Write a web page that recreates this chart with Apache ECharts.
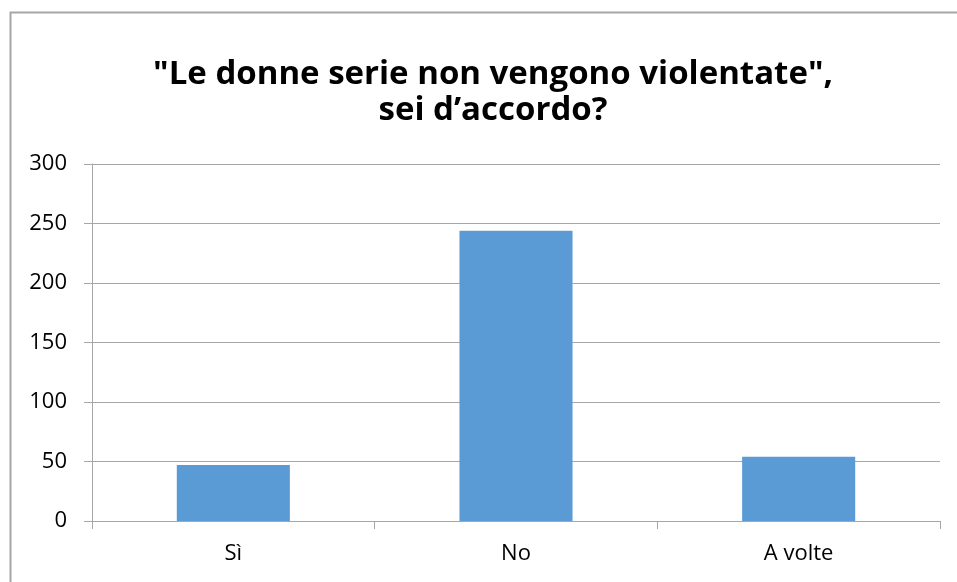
<!DOCTYPE html>
<html>
<head>
<meta charset="utf-8">
<script src="https://cdn.jsdelivr.net/npm/echarts@6/dist/echarts.min.js"></script>
<style>
  html, body { margin: 0; padding: 0; background: #fff; }
  #chart { width: 957px; height: 582px; }
</style>
</head>
<body>
<div id="chart"></div>
<script>
// Survey answers and counts
const categories = ['Sì', 'No', 'A volte'];
const counts = [47, 244, 54];
const yTicks = [0, 50, 100, 150, 200, 250, 300];

const titleLines = ['"Le donne serie non vengono violentate",', 'sei d’accordo?'];
const font = '"Open Sans", "Liberation Sans", sans-serif';

const chart = echarts.init(document.getElementById('chart'), null, { renderer: 'canvas' });

chart.setOption({
  animation: false,
  backgroundColor: '#ffffff',
  graphic: [
    {
      type: 'rect',
      shape: { x: 10.5, y: 12.5, width: 1000, height: 700 },
      style: { fill: 'none', stroke: '#a6a6a6', lineWidth: 2 },
      silent: true
    }
  ],
  title: {
    text: titleLines.join('\n'),
    left: 488,
    textAlign: 'center',
    top: 52,
    textStyle: {
      fontFamily: font,
      fontWeight: 'bold',
      fontSize: 33,
      lineHeight: 36,
      color: '#000000'
    }
  },
  grid: {
    left: 92,
    right: 17,
    top: 164,
    bottom: 61,
    containLabel: false
  },
  xAxis: {
    type: 'category',
    data: categories,
    axisLine: { lineStyle: { color: '#a6a6a6', width: 1 } },
    axisTick: { show: true, length: 8, alignWithLabel: false, lineStyle: { color: '#a6a6a6' } },
    axisLabel: { color: '#000000', fontFamily: font, fontSize: 22, margin: 22 }
  },
  yAxis: {
    type: 'value',
    min: yTicks[0],
    max: yTicks[yTicks.length - 1],
    interval: yTicks[1] - yTicks[0],
    axisLine: { show: true, lineStyle: { color: '#a6a6a6', width: 1 } },
    axisTick: { show: true, length: 8, lineStyle: { color: '#a6a6a6' } },
    axisLabel: { color: '#000000', fontFamily: font, fontSize: 22, margin: 25 },
    splitLine: { show: true, lineStyle: { color: '#a6a6a6', width: 1 } }
  },
  series: [
    {
      type: 'bar',
      data: counts,
      barCategoryGap: '60%',
      itemStyle: { color: '#5b9bd5' }
    }
  ]
});
</script>
</body>
</html>
